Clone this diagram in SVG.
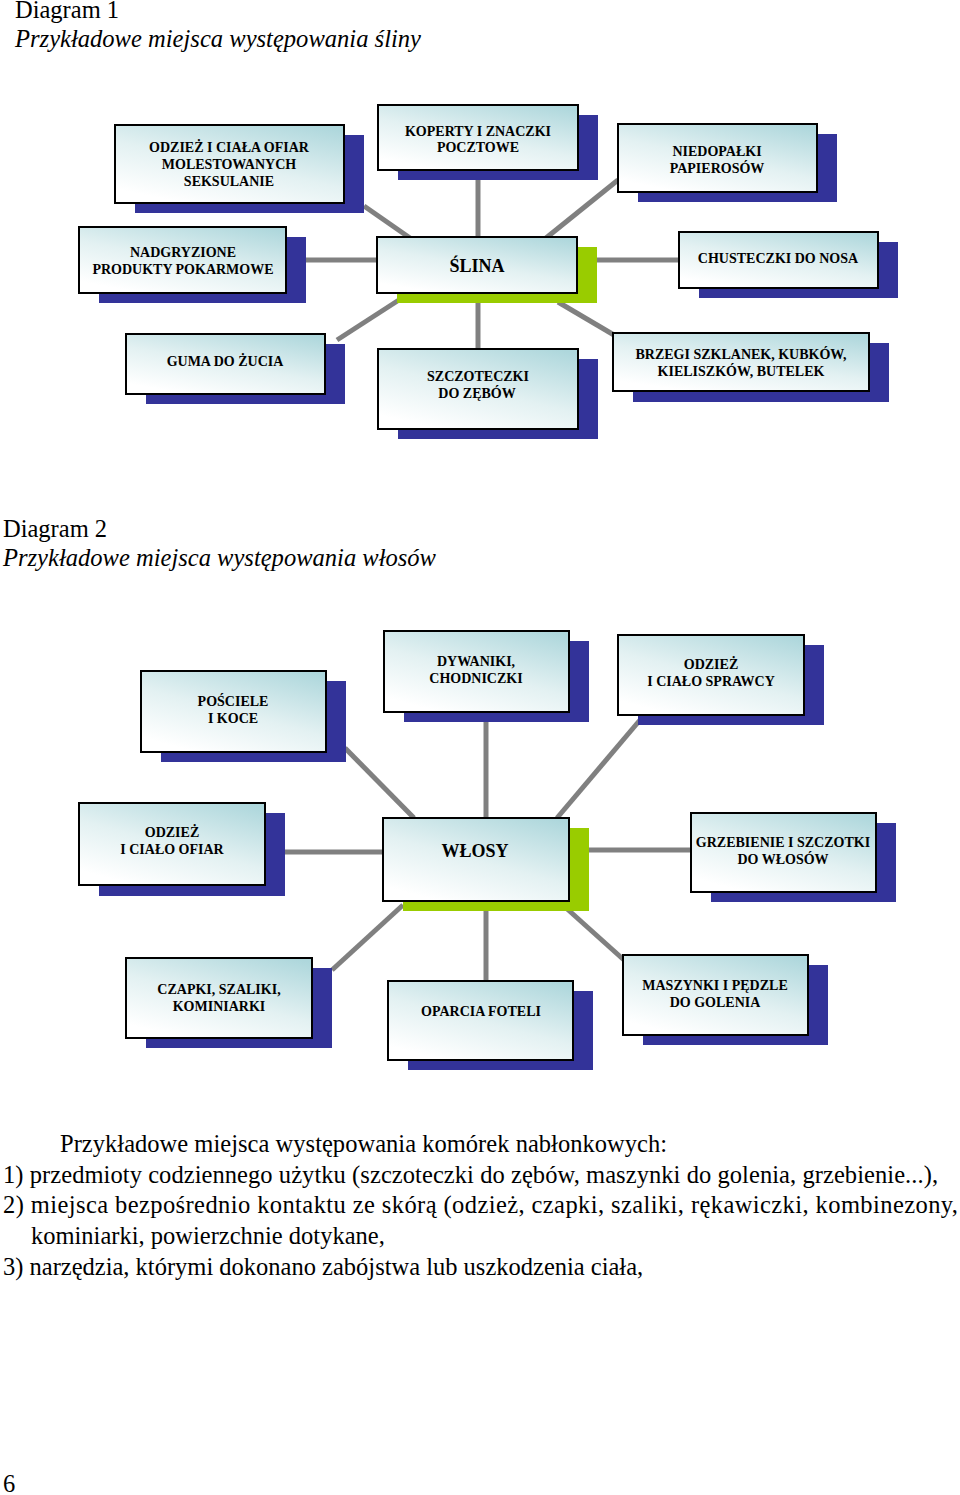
<svg xmlns="http://www.w3.org/2000/svg" width="960" height="1495" viewBox="0 0 960 1495">
<defs>
<linearGradient id="g" x1="0.9" y1="0" x2="0.3" y2="1">
<stop offset="0" stop-color="#aed7dc"/>
<stop offset="0.55" stop-color="#e3f1f2"/>
<stop offset="1" stop-color="#ffffff"/>
</linearGradient>
</defs>
<style>
.sh{fill:#333399}
.shg{fill:#99cc00}
.bx{fill:url(#g);stroke:#000;stroke-width:2}
.lb{font-family:"Liberation Serif","Times New Roman",serif;font-weight:bold;font-size:14px;text-anchor:middle;fill:#000}
.ct{font-family:"Liberation Serif","Times New Roman",serif;font-weight:bold;font-size:18px;text-anchor:middle;fill:#000}
.cn{stroke:#808080;stroke-width:5;fill:none}
.hd{font-family:"Liberation Serif","Times New Roman",serif;font-size:24.5px;fill:#000}
.it{font-style:italic}
.bd{font-family:"Liberation Serif","Times New Roman",serif;font-size:24.5px;fill:#000}
</style>
<rect width="960" height="1495" fill="#fff"/>

<text class="hd" x="15" y="18">Diagram 1</text>
<text class="hd it" x="15" y="47" textLength="406" lengthAdjust="spacingAndGlyphs">Przykładowe miejsca występowania śliny</text>

<g id="connectors1">
<line class="cn" x1="364" y1="206" x2="410" y2="238"/>
<line class="cn" x1="478" y1="180" x2="478" y2="238"/>
<line class="cn" x1="618" y1="180" x2="546" y2="238"/>
<line class="cn" x1="306" y1="260" x2="377" y2="260"/>
<line class="cn" x1="597" y1="260" x2="679" y2="260"/>
<line class="cn" x1="402" y1="298" x2="337" y2="340"/>
<line class="cn" x1="478" y1="303" x2="478" y2="349"/>
<line class="cn" x1="558" y1="302" x2="614" y2="335"/>
</g>

<g id="n_odziez_molest">
<rect class="sh" x="135" y="135" width="229" height="78"/>
<rect class="bx" x="115" y="125" width="229" height="78"/>
<text class="lb" x="229" y="152">ODZIEŻ I CIAŁA OFIAR</text>
<text class="lb" x="229" y="169">MOLESTOWANYCH</text>
<text class="lb" x="229" y="186">SEKSULANIE</text>
</g>
<g id="n_koperty">
<rect class="sh" x="398" y="115" width="200" height="65"/>
<rect class="bx" x="378" y="105" width="200" height="65"/>
<text class="lb" x="478" y="136">KOPERTY I ZNACZKI</text>
<text class="lb" x="478" y="152">POCZTOWE</text>
</g>
<g id="n_niedopalki">
<rect class="sh" x="638" y="134" width="199" height="68"/>
<rect class="bx" x="618" y="124" width="199" height="68"/>
<text class="lb" x="717" y="156">NIEDOPAŁKI</text>
<text class="lb" x="717" y="173">PAPIEROSÓW</text>
</g>
<g id="n_nadgryzione">
<rect class="sh" x="99" y="237" width="207" height="66"/>
<rect class="bx" x="79" y="227" width="207" height="66"/>
<text class="lb" x="183" y="257">NADGRYZIONE</text>
<text class="lb" x="183" y="274">PRODUKTY POKARMOWE</text>
</g>
<g id="n_slina">
<rect class="shg" x="397" y="247" width="200" height="56"/>
<rect class="bx" x="377" y="237" width="200" height="56"/>
<text class="ct" x="477" y="272">ŚLINA</text>
</g>
<g id="n_chusteczki">
<rect class="sh" x="699" y="242" width="199" height="56"/>
<rect class="bx" x="679" y="232" width="199" height="56"/>
<text class="lb" x="778" y="263">CHUSTECZKI DO NOSA</text>
</g>
<g id="n_guma">
<rect class="sh" x="146" y="344" width="199" height="60"/>
<rect class="bx" x="126" y="334" width="199" height="60"/>
<text class="lb" x="225" y="366">GUMA DO ŻUCIA</text>
</g>
<g id="n_szczoteczki">
<rect class="sh" x="398" y="359" width="200" height="80"/>
<rect class="bx" x="378" y="349" width="200" height="80"/>
<text class="lb" x="478" y="381">SZCZOTECZKI</text>
<text class="lb" x="477" y="398">DO ZĘBÓW</text>
</g>
<g id="n_brzegi">
<rect class="sh" x="633" y="343" width="256" height="59"/>
<rect class="bx" x="613" y="333" width="256" height="58"/>
<text class="lb" x="741" y="359">BRZEGI SZKLANEK, KUBKÓW,</text>
<text class="lb" x="741" y="376">KIELISZKÓW, BUTELEK</text>
</g>

<text class="hd" x="3" y="537">Diagram 2</text>
<text class="hd it" x="3" y="566" textLength="433" lengthAdjust="spacingAndGlyphs">Przykładowe miejsca występowania włosów</text>

<g id="connectors2">
<line class="cn" x1="345" y1="748" x2="414" y2="818"/>
<line class="cn" x1="486" y1="722" x2="486" y2="818"/>
<line class="cn" x1="640" y1="720" x2="557" y2="818"/>
<line class="cn" x1="285" y1="852" x2="383" y2="852"/>
<line class="cn" x1="589" y1="850" x2="691" y2="850"/>
<line class="cn" x1="403" y1="905" x2="332" y2="970"/>
<line class="cn" x1="486" y1="911" x2="486" y2="981"/>
<line class="cn" x1="565" y1="907" x2="624" y2="960"/>
</g>

<g id="n_poscieli">
<rect class="sh" x="161" y="681" width="185" height="81"/>
<rect class="bx" x="141" y="671" width="185" height="81"/>
<text class="lb" x="233" y="706">POŚCIELE</text>
<text class="lb" x="233" y="723">I KOCE</text>
</g>
<g id="n_dywaniki">
<rect class="sh" x="404" y="641" width="185" height="81"/>
<rect class="bx" x="384" y="631" width="185" height="81"/>
<text class="lb" x="476" y="666">DYWANIKI,</text>
<text class="lb" x="476" y="683">CHODNICZKI</text>
</g>
<g id="n_odziez_sprawcy">
<rect class="sh" x="638" y="645" width="186" height="80"/>
<rect class="bx" x="618" y="635" width="186" height="80"/>
<text class="lb" x="711" y="669">ODZIEŻ</text>
<text class="lb" x="711" y="686">I CIAŁO SPRAWCY</text>
</g>
<g id="n_odziez_ofiar">
<rect class="sh" x="99" y="813" width="186" height="83"/>
<rect class="bx" x="79" y="803" width="186" height="82"/>
<text class="lb" x="172" y="837">ODZIEŻ</text>
<text class="lb" x="172" y="854">I CIAŁO OFIAR</text>
</g>
<g id="n_wlosy">
<rect class="shg" x="403" y="828" width="186" height="83"/>
<rect class="bx" x="383" y="818" width="186" height="83"/>
<text class="ct" x="475" y="857">WŁOSY</text>
</g>
<g id="n_grzebienie">
<rect class="sh" x="711" y="823" width="185" height="79"/>
<rect class="bx" x="691" y="813" width="185" height="79"/>
<text class="lb" x="783" y="847">GRZEBIENIE I SZCZOTKI</text>
<text class="lb" x="783" y="864">DO WŁOSÓW</text>
</g>
<g id="n_czapki">
<rect class="sh" x="146" y="968" width="186" height="80"/>
<rect class="bx" x="126" y="958" width="186" height="80"/>
<text class="lb" x="219" y="994">CZAPKI, SZALIKI,</text>
<text class="lb" x="219" y="1011">KOMINIARKI</text>
</g>
<g id="n_oparcia">
<rect class="sh" x="408" y="991" width="185" height="79"/>
<rect class="bx" x="388" y="981" width="185" height="79"/>
<text class="lb" x="481" y="1016">OPARCIA FOTELI</text>
</g>
<g id="n_maszynki">
<rect class="sh" x="643" y="965" width="185" height="80"/>
<rect class="bx" x="623" y="955" width="185" height="80"/>
<text class="lb" x="715" y="990">MASZYNKI I PĘDZLE</text>
<text class="lb" x="715" y="1007">DO GOLENIA</text>
</g>

<text class="bd" x="60" y="1152" textLength="607" lengthAdjust="spacing">Przykładowe miejsca występowania komórek nabłonkowych:</text>
<text class="bd" x="3" y="1183" textLength="935" lengthAdjust="spacing">1) przedmioty codziennego użytku (szczoteczki do zębów, maszynki do golenia, grzebienie...),</text>
<text class="bd" x="3" y="1213" textLength="955" lengthAdjust="spacing">2) miejsca bezpośrednio kontaktu ze skórą (odzież, czapki, szaliki, rękawiczki, kombinezony,</text>
<text class="bd" x="31" y="1244">kominiarki, powierzchnie dotykane,</text>
<text class="bd" x="3" y="1275">3) narzędzia, którymi dokonano zabójstwa lub uszkodzenia ciała,</text>
<text class="bd" x="3" y="1492">6</text>
</svg>
